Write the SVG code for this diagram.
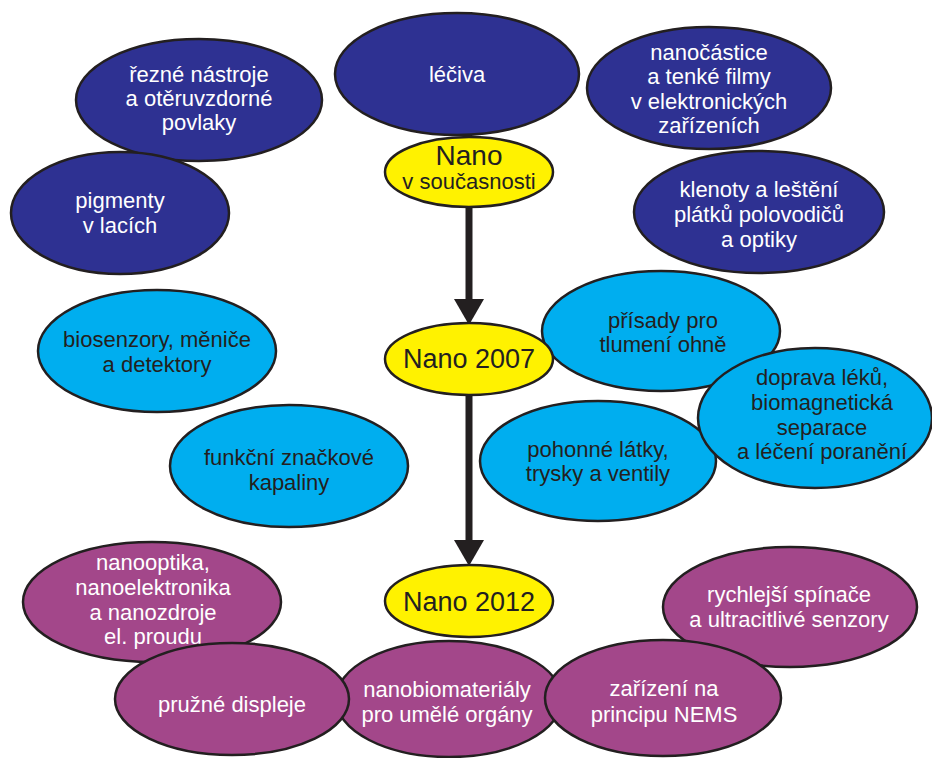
<svg xmlns="http://www.w3.org/2000/svg" width="932" height="758" viewBox="0 0 932 758">
<style>
  .e { stroke: #231f20; stroke-width: 2.5; }
  .blue { fill: #2e3192; }
  .cyan { fill: #00aeef; }
  .purple { fill: #a3478a; }
  .yellow { fill: #fff200; }
  text { font-family: "Liberation Sans", Arial, sans-serif; font-size: 22px; text-anchor: middle; }
  .w { fill: #ffffff; }
  .d { fill: #231f20; }
  .big { font-size: 27px; }
  .huge { font-size: 28px; }
  .conn { stroke: #231f20; stroke-width: 7; fill: none; }
</style>
<defs>
  <marker id="ah" markerUnits="userSpaceOnUse" markerWidth="26" markerHeight="30" viewBox="0 0 26 30" refX="0" refY="15" orient="auto">
    <path d="M0,0 L26,15 L0,30 z" fill="#231f20"/>
  </marker>
</defs>

<g id="n-rezne">
  <ellipse class="e blue" cx="199" cy="100" rx="123" ry="61"/>
  <text class="w"><tspan x="199" y="82">řezné nástroje</tspan><tspan x="199" y="106">a otěruvzdorné</tspan><tspan x="199" y="130">povlaky</tspan></text>
</g>
<g id="n-pigmenty">
  <ellipse class="e blue" cx="120" cy="213" rx="109" ry="61"/>
  <text class="w"><tspan x="120" y="208">pigmenty</tspan><tspan x="120" y="233">v lacích</tspan></text>
</g>
<g id="n-leciva">
  <ellipse class="e blue" cx="457" cy="74" rx="122" ry="61"/>
  <text class="w" x="457" y="82">léčiva</text>
</g>
<g id="n-nanocastice">
  <ellipse class="e blue" cx="709" cy="88" rx="122" ry="61"/>
  <text class="w"><tspan x="709" y="60">nanočástice</tspan><tspan x="709" y="84">a tenké filmy</tspan><tspan x="709" y="109">v elektronických</tspan><tspan x="709" y="133">zařízeních</tspan></text>
</g>
<g id="n-klenoty">
  <ellipse class="e blue" cx="759" cy="212" rx="125" ry="61"/>
  <text class="w"><tspan x="759" y="197">klenoty a leštění</tspan><tspan x="759" y="222">plátků polovodičů</tspan><tspan x="759" y="247">a optiky</tspan></text>
</g>

<g id="n-biosenzory">
  <ellipse class="e cyan" cx="157" cy="351" rx="119" ry="61"/>
  <text class="d"><tspan x="157" y="347">biosenzory, měniče</tspan><tspan x="157" y="372">a detektory</tspan></text>
</g>
<g id="n-funkcni">
  <ellipse class="e cyan" cx="289" cy="466" rx="119" ry="61"/>
  <text class="d"><tspan x="289" y="465">funkční značkové</tspan><tspan x="289" y="490">kapaliny</tspan></text>
</g>
<g id="n-prisady">
  <ellipse class="e cyan" cx="661" cy="331" rx="119" ry="60"/>
  <text class="d"><tspan x="663" y="328">přísady pro</tspan><tspan x="663" y="352">tlumení ohně</tspan></text>
</g>
<g id="n-pohonne">
  <ellipse class="e cyan" cx="598" cy="461" rx="118" ry="60"/>
  <text class="d"><tspan x="598" y="457">pohonné látky,</tspan><tspan x="598" y="481">trysky a ventily</tspan></text>
</g>
<g id="n-doprava">
  <ellipse class="e cyan" cx="815" cy="418" rx="117" ry="70"/>
  <text class="d"><tspan x="822" y="385">doprava léků,</tspan><tspan x="822" y="410">biomagnetická</tspan><tspan x="822" y="435">separace</tspan><tspan x="822" y="459">a léčení poranění</tspan></text>
</g>

<g id="n-nanooptika">
  <ellipse class="e purple" cx="152" cy="602" rx="129" ry="60"/>
  <text class="w"><tspan x="153" y="570">nanooptika,</tspan><tspan x="153" y="595">nanoelektronika</tspan><tspan x="153" y="620">a nanozdroje</tspan><tspan x="153" y="644">el. proudu</tspan></text>
</g>
<g id="n-nanobio">
  <ellipse class="e purple" cx="449" cy="699" rx="113" ry="58"/>
  <text class="w"><tspan x="447" y="697">nanobiomateriály</tspan><tspan x="447" y="722">pro umělé orgány</tspan></text>
</g>
<g id="n-pruzne">
  <ellipse class="e purple" cx="232" cy="699" rx="117" ry="56"/>
  <text class="w" x="232" y="712">pružné displeje</text>
</g>
<g id="n-rychlejsi">
  <ellipse class="e purple" cx="790" cy="607" rx="127" ry="60"/>
  <text class="w"><tspan x="789" y="602">rychlejší spínače</tspan><tspan x="789" y="627">a ultracitlivé senzory</tspan></text>
</g>
<g id="n-zarizeni">
  <ellipse class="e purple" cx="663" cy="698" rx="118" ry="58"/>
  <text class="w"><tspan x="664" y="696">zařízení na</tspan><tspan x="664" y="722">principu NEMS</tspan></text>
</g>

<g id="connectors">
  <path class="conn" d="M469,207 L469,299" marker-end="url(#ah)"/>
  <path class="conn" d="M469,394 L469,540" marker-end="url(#ah)"/>
</g>

<g id="n-nano-soucasnost">
  <ellipse class="e yellow" cx="469" cy="172" rx="84" ry="35"/>
  <text class="d"><tspan class="huge" x="469" y="165">Nano</tspan><tspan x="469" y="189">v současnosti</tspan></text>
</g>
<g id="n-nano-2007">
  <ellipse class="e yellow" cx="469" cy="359" rx="84" ry="36"/>
  <text class="d big" x="469" y="368">Nano 2007</text>
</g>
<g id="n-nano-2012">
  <ellipse class="e yellow" cx="469" cy="601" rx="84" ry="36"/>
  <text class="d big" x="469" y="611">Nano 2012</text>
</g>
</svg>
